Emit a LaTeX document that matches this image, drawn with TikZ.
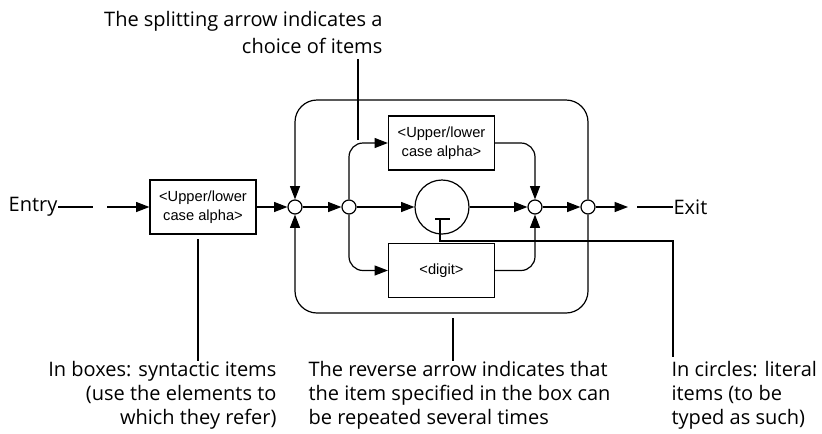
\documentclass[tikz,border=0pt]{standalone}
\usepackage{fontspec}
\setmainfont{Open Sans}
\newfontfamily\boxfont{Liberation Sans}
\usetikzlibrary{arrows.meta}

\begin{document}
\begin{tikzpicture}
[
	x=0.75pt,
	y=-0.75pt,
	line width=0.9pt,
	flow/.style={-{Triangle[length=10pt,width=7.5pt]}},
	synbox/.style={rectangle,draw,align=center,inner sep=0pt,minimum width=79.5pt,minimum height=40.5pt,font=\boxfont\fontsize{11}{14.2}\selectfont},
	junction/.style={circle,draw,fill=white,inner sep=0pt,minimum size=10.5pt},
	literal/.style={circle,draw,inner sep=0pt,minimum size=40.5pt},
	note/.style={inner sep=0pt,font=\fontsize{15}{18}\selectfont}
]

	\useasboundingbox (0,0) rectangle (822,433);

	% items on the main line
	\node[note,anchor=east] at (58,207) (entry) {Entry};
	\node[synbox] at (203,207) (alpha1) {<Upper/lower\\case alpha>};
	\node[junction] at (295,207) (j1) {};
	\node[junction] at (349,207) (j2) {};
	\node[synbox] at (441.5,143) (alpha2) {<Upper/lower\\case alpha>};
	\node[literal] at (442,207) (lit) {};
	\node[synbox] at (441.5,270.5) (digit) {<digit>};
	\node[junction] at (535,207) (j4) {};
	\node[junction] at (588,207) (j5) {};
	\node[note,anchor=west] at (673,207) (exit) {Exit};

	\coordinate (in1) at (93,207);
	\coordinate (in2) at (107,207);
	\coordinate (out1) at (628,207);
	\coordinate (out2) at (637,207);
	\coordinate (top) at (441,100);
	\coordinate (bot) at (441,313);

	% main line
	\draw (entry) -- (in1);
	\draw[flow] (in2) -- (alpha1);
	\draw[flow] (alpha1) -- (j1);
	\draw[flow] (j1) -- (j2);
	\draw[flow] (j2) -- (lit);
	\draw[flow] (lit) -- (j4);
	\draw[flow] (j4) -- (j5);
	\draw[flow] (j5) -- (out1);
	\draw (out2) -- (exit);

	% choice
	\draw[flow,rounded corners=10.5pt] (j2) |- (alpha2);
	\draw[flow,rounded corners=10.5pt] (j2) |- (digit);
	\draw[flow,rounded corners=10.5pt] (alpha2) -| (j4);
	\draw[flow,rounded corners=10.5pt] (digit) -| (j4);

	% repeat loop
	\draw[flow,rounded corners=16.5pt] (j5) -- (j5 |- top) -- (j1 |- top) -- (j1);
	\draw[flow,rounded corners=16.5pt] (j5) -- (j5 |- bot) -- (j1 |- bot) -- (j1);

	% notes
	\node[note,align=right,anchor=south east,font=\fontsize{15}{20}\selectfont] at (383,54) (choicenote) {The splitting arrow indicates a\\choice of items};
	\node[note,align=right,anchor=north east] at (277,361) (boxnote) {In boxes: syntactic items\\(use the elements to\\which they refer)};
	\node[note,align=left,anchor=north west] at (308,361) (loopnote) {The reverse arrow indicates that\\the item specified in the box can\\be repeated several times};
	\node[note,align=left,anchor=north west] at (671,361) (litnote) {In circles: literal\\items (to be\\typed as such)};

	\coordinate (choicetop) at (358,59);
	\coordinate (choicept) at (358,140);
	\coordinate (boxpt) at (198,239);
	\coordinate (looppt) at (453,318);
	\coordinate (mark) at (440,219);
	\coordinate (knee) at (673,241);

	\draw (choicetop) -- (choicept);
	\draw (boxpt) -- (boxpt |- boxnote.north);
	\draw (looppt) -- (looppt |- loopnote.north);
	\draw ([xshift=-3.75pt]mark) -- ([xshift=7.5pt]mark);
	\draw (mark) |- (knee) -- ([yshift=3pt]knee |- litnote.north);

\end{tikzpicture}
\end{document}
